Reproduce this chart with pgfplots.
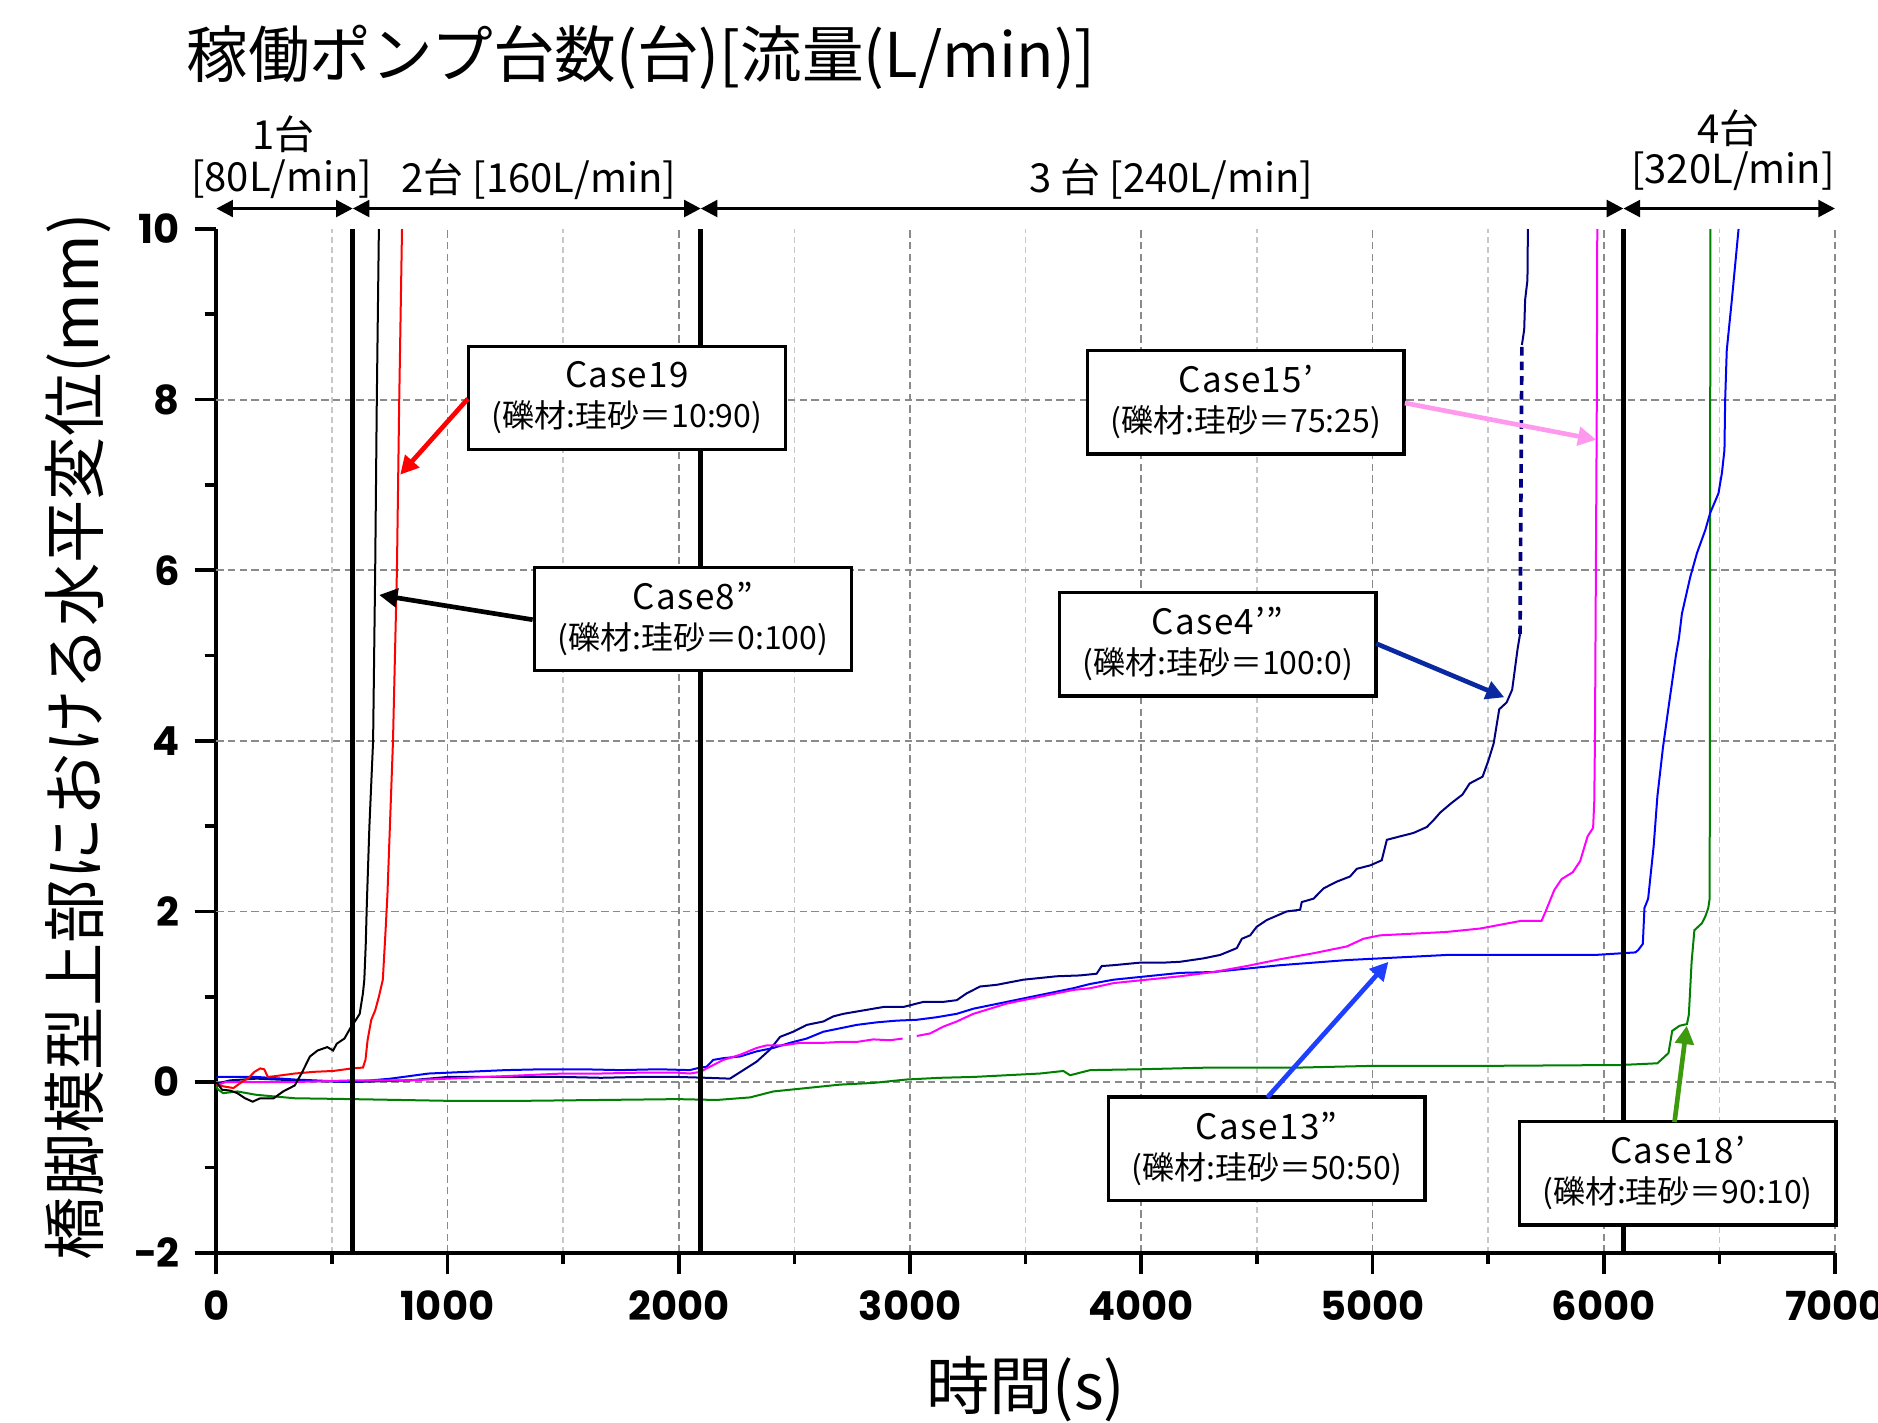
\documentclass[border=0pt]{standalone}
\usepackage{fontspec}
\setmainfont{Noto Sans CJK JP}
\newfontfamily\tickfont{Poppins}
\usepackage{pgfplots}
\pgfplotsset{compat=1.18}
\usetikzlibrary{arrows.meta}

\definecolor{navy}{HTML}{000080}
\definecolor{mag}{HTML}{FF00FF}
\definecolor{grn}{HTML}{008000}
\definecolor{pinkarrow}{HTML}{FF99EE}
\definecolor{navyarrow}{HTML}{0A28A0}
\definecolor{bluearrow}{HTML}{1F3FFF}
\definecolor{greenarrow}{HTML}{3C9A0C}
\definecolor{gridg}{HTML}{8A8A8A}
\definecolor{gridl}{HTML}{C8C8C8}

\tikzset{
  casebox/.style={draw=black, line width=1pt, fill=white, minimum width=95pt,
    minimum height=31pt, align=center, inner sep=2pt},
  annarrow/.style={line width=1.4pt, -{Triangle[length=5.5pt,width=5.5pt]}},
  hdrarrow/.style={line width=1pt, {Triangle[length=5pt,width=5pt]}-{Triangle[length=5pt,width=5pt]}},
}
\newcommand{\casefont}{\fontsize{10.5}{12}\selectfont\addfontfeature{LetterSpace=4}}
\newcommand{\subfont}{\fontsize{9.6}{12}\selectfont}

\begin{document}
\begin{tikzpicture}
\useasboundingbox (-64.9pt,-50.8pt) rectangle (498.5pt,375.8pt);
\begin{axis}[
  at={(0pt,0pt)}, anchor=south west,
  scale only axis, width=485.6pt, height=307.1pt,
  clip=false,
  xmin=0, xmax=7000, ymin=-2, ymax=10,
  axis x line*=bottom, axis y line*=left,
  axis line style={line width=1.1pt, black},
  xtick={0,1000,2000,3000,4000,5000,6000,7000},
  xticklabels={0,1000,2000,3000,4000,5000,6000,7000},
  scaled x ticks=false,
  minor x tick num=1,
  ytick={-2,0,2,4,6,8,10},
  yticklabels={−2,0,2,4,6,8,10},
  minor y tick num=1,
  tick align=outside,
  major tick length=6.5pt, minor tick length=3.5pt,
  tick style={black, line width=1.1pt},
  ticklabel style={font=\tickfont\bfseries\fontsize{12}{12}\selectfont},
  xticklabel style={yshift=-1.5pt},
  yticklabel style={xshift=-1pt},
  /pgf/number format/assume math mode=true,
  xmajorgrids=true, xminorgrids=true, ymajorgrids=false,
  major grid style={color=gridg, line width=0.55pt, dash pattern=on 2.2pt off 1.3pt},
  minor grid style={color=gridl, line width=0.5pt, dash pattern=on 1.6pt off 1.4pt},
  extra y ticks={0,2,4,6,8}, extra y tick labels={},
  extra y tick style={grid=major, major tick length=0pt},
  xlabel={時間(s)},
  xlabel style={at={(axis description cs:0.5,-0.1335)}, anchor=center, font=\fontsize{19}{19}\selectfont},
  ylabel={橋脚模型上部における水平変位(mm)},
  ylabel style={at={(axis description cs:-0.0857,0.504)}, anchor=center, font=\fontsize{19}{19}\selectfont},
]
% Case18' (green)
\addplot[grn, line width=0.6pt] coordinates {
(0,-0.05)(8,-0.09)(30,-0.13)(91,-0.11)(174,-0.15)(339,-0.19)(587,-0.20)(1001,-0.22)
(1332,-0.22)(1663,-0.21)(1994,-0.20)(2164,-0.21)(2308,-0.18)(2409,-0.11)(2553,-0.07)
(2697,-0.03)(2841,-0.01)(2986,0.03)(3130,0.05)(3274,0.06)(3418,0.08)(3562,0.10)(3663,0.13)
(3692,0.08)(3779,0.14)(4000,0.15)(4300,0.17)(4688,0.17)(5000,0.19)(5500,0.19)(6073,0.20)
(6232,0.22)(6280,0.34)(6296,0.60)(6328,0.66)(6360,0.68)(6368,0.79)(6380,1.41)(6392,1.78)
(6424,1.86)(6439,1.94)(6452,2.04)(6458,2.15)(6460,6.0)(6461,10)};
% Case4''' (navy)
\addplot[navy, line width=0.6pt] coordinates {
(0,-0.02)(60,0.02)(174,0.04)(339,0.02)(587,0.0)(836,0.02)(1001,0.06)(1167,0.06)(1332,0.06)
(1498,0.06)(1663,0.05)(1829,0.06)(1994,0.06)(2120,0.05)(2221,0.04)(2279,0.14)(2337,0.24)
(2394,0.38)(2438,0.53)(2495,0.59)(2553,0.67)(2625,0.71)(2668,0.77)(2712,0.80)(2798,0.84)
(2885,0.88)(2971,0.88)(3058,0.94)(3144,0.94)(3202,0.96)(3245,1.04)(3303,1.12)(3375,1.14)
(3490,1.20)(3562,1.22)(3634,1.24)(3735,1.25)(3807,1.27)(3829,1.36)(3880,1.37)(3995,1.40)
(4096,1.40)(4168,1.41)(4269,1.45)(4341,1.49)(4413,1.57)(4435,1.68)(4471,1.72)(4499,1.82)
(4543,1.90)(4629,2.00)(4687,2.02)(4694,2.11)(4745,2.15)(4788,2.27)(4846,2.35)(4903,2.41)
(4932,2.50)(4990,2.54)(5040,2.60)(5062,2.84)(5119,2.88)(5177,2.92)(5235,2.99)(5264,3.07)
(5293,3.16)(5341,3.27)(5389,3.37)(5420,3.50)(5476,3.58)(5500,3.76)(5524,3.97)(5548,4.37)
(5580,4.45)(5604,4.60)(5627,5.07)(5638,5.25)};
\addplot[navy, line width=1.1pt, dash pattern=on 2.6pt off 1.8pt] coordinates {(5638,5.25)(5646,8.64)};
\addplot[navy, line width=0.6pt] coordinates {(5646,8.64)(5656,8.82)(5660,9.17)(5670,9.4)(5672,10)};
% Case13'' (blue)
\addplot[blue, line width=0.6pt] coordinates {
(0,0.05)(8,0.06)(174,0.06)(339,0.03)(587,0.0)(753,0.04)(918,0.10)(1084,0.12)(1250,0.14)
(1415,0.15)(1581,0.15)(1746,0.14)(1912,0.15)(2048,0.14)(2077,0.16)(2120,0.18)(2149,0.26)
(2193,0.28)(2265,0.30)(2337,0.36)(2409,0.40)(2481,0.46)(2553,0.51)(2625,0.59)(2697,0.63)
(2769,0.67)(2856,0.70)(2942,0.72)(3029,0.73)(3115,0.76)(3202,0.80)(3274,0.86)(3346,0.90)
(3418,0.94)(3490,0.98)(3562,1.02)(3634,1.06)(3706,1.10)(3779,1.15)(3880,1.20)(4024,1.24)
(4168,1.28)(4312,1.29)(4456,1.33)(4600,1.37)(4745,1.40)(4889,1.43)(5033,1.45)(5177,1.47)
(5321,1.49)(5484,1.49)(5643,1.49)(5802,1.49)(5962,1.49)(6137,1.52)(6150,1.55)(6169,1.62)
(6176,2.04)(6192,2.15)(6216,2.77)(6232,3.35)(6256,3.92)(6280,4.39)(6312,5.0)(6325,5.2)
(6338,5.49)(6374,5.92)(6403,6.20)(6439,6.47)(6460,6.67)(6496,6.90)(6511,7.14)(6522,7.41)
(6525,7.99)(6532,8.58)(6554,9.17)(6583,10)};
% Case15' (magenta)
\addplot[mag, line width=0.6pt] coordinates {
(0,-0.04)(40,0.0)(174,0.0)(339,0.0)(587,0.02)(836,0.02)(1001,0.04)(1167,0.06)(1332,0.08)
(1498,0.10)(1663,0.10)(1829,0.11)(1994,0.11)(2048,0.10)(2094,0.12)(2120,0.16)(2193,0.26)
(2265,0.32)(2337,0.40)(2380,0.43)(2452,0.43)(2524,0.46)(2625,0.46)(2697,0.47)(2769,0.47)
(2841,0.50)(2913,0.49)(2968,0.51)};
\addplot[mag, line width=0.6pt] coordinates {
(3029,0.54)(3087,0.57)(3144,0.65)(3202,0.71)(3274,0.80)(3346,0.86)(3418,0.92)(3490,0.96)
(3562,1.00)(3634,1.04)(3706,1.08)(3779,1.10)(3880,1.16)(4024,1.20)(4168,1.24)(4312,1.29)
(4456,1.36)(4600,1.44)(4745,1.51)(4889,1.59)(4961,1.68)(5033,1.72)(5177,1.74)(5321,1.76)
(5466,1.80)(5643,1.89)(5731,1.89)(5747,1.99)(5786,2.25)(5818,2.38)(5866,2.46)(5898,2.59)
(5930,2.88)(5954,2.98)(5959,3.29)(5962,4.03)(5966,6.0)(5970,8.0)(5972,10)};
% Case19 (red)
\addplot[red, line width=0.6pt] coordinates {
(0,-0.03)(30,-0.05)(74,-0.07)(110,0.0)(140,0.05)(165,0.12)(190,0.16)(207,0.15)(223,0.06)
(256,0.07)(339,0.10)(422,0.12)(505,0.13)(587,0.16)(634,0.17)(645,0.26)(654,0.49)(670,0.73)
(687,0.84)(703,1.00)(720,1.20)(732,1.78)(740,2.2)(764,4.0)(781,6.0)(791,8.0)(803,10)};
% Case8'' (black)
\addplot[black, line width=0.6pt] coordinates {
(0,0.00)(25,-0.09)(60,-0.10)(91,-0.13)(124,-0.19)(157,-0.23)(190,-0.19)(248,-0.19)(289,-0.11)
(339,-0.04)(372,0.12)(405,0.30)(438,0.37)(480,0.41)(505,0.37)(521,0.45)(554,0.51)(579,0.63)
(604,0.73)(620,0.80)(634,1.04)(640,1.20)(646,1.6)(651,2.1)(662,3.0)(678,4.0)(687,6.0)
(694,8.0)(703,10)};
% pump-change lines
\addplot[black, line width=1.4pt] coordinates {(590,-2)(590,10)};
\addplot[black, line width=1.4pt] coordinates {(2095,-2)(2095,10)};
\addplot[black, line width=1.4pt] coordinates {(6085,-2)(6085,10)};

% header
\node[anchor=west, font=\fontsize{18.5}{20}\selectfont] at (axis cs:-180,12.01) {稼働ポンプ台数(台)[流量(L/min)]};
\draw[hdrarrow] (axis cs:0,10.24) -- (axis cs:590,10.24);
\draw[hdrarrow] (axis cs:590,10.24) -- (axis cs:2095,10.24);
\draw[hdrarrow] (axis cs:2095,10.24) -- (axis cs:6085,10.24);
\draw[hdrarrow] (axis cs:6085,10.24) -- (axis cs:7000,10.24);
\node[font=\fontsize{12}{12}\selectfont] at (axis cs:290,11.11) {1台};
\node[font=\fontsize{12}{12}\selectfont] at (axis cs:283,10.58) {[80L/min]};
\node[font=\fontsize{12}{12}\selectfont] at (axis cs:1394,10.58) {2台 [160L/min]};
\node[font=\fontsize{12}{12}\selectfont] at (axis cs:4130,10.58) {3 台 [240L/min]};
\node[font=\fontsize{12}{12}\selectfont] at (axis cs:6539,11.18) {4台};
\node[font=\fontsize{12}{12}\selectfont] at (axis cs:6559,10.68) {[320L/min]};

% boxes
\node[casebox] at (axis cs:1776,8.02) {\casefont Case19\\\subfont (礫材:珪砂＝10:90)};
\node[casebox] at (axis cs:2061,5.43) {\casefont Case8”\\\subfont (礫材:珪砂＝0:100)};
\node[casebox] at (axis cs:4452,7.97) {\casefont Case15’\\\subfont (礫材:珪砂＝75:25)};
\node[casebox] at (axis cs:4330,5.13) {\casefont Case4’”\\\subfont (礫材:珪砂＝100:0)};
\node[casebox] at (axis cs:4542,-0.78) {\casefont Case13”\\\subfont (礫材:珪砂＝50:50)};
\node[casebox] at (axis cs:6319,-1.07) {\casefont Case18’\\\subfont (礫材:珪砂＝90:10)};

% arrows
\draw[annarrow, red] (axis cs:1088,8.01) -- (axis cs:795,7.12);
\draw[annarrow, black] (axis cs:1368,5.42) -- (axis cs:704,5.71);
\draw[annarrow, pinkarrow] (axis cs:5140,7.96) -- (axis cs:5968,7.53);
\draw[annarrow, navyarrow] (axis cs:5016,5.14) -- (axis cs:5570,4.51);
\draw[annarrow, bluearrow] (axis cs:4545,-0.18) -- (axis cs:5069,1.41);
\draw[annarrow, greenarrow] (axis cs:6306,-0.47) -- (axis cs:6359,0.66);
\end{axis}
\end{tikzpicture}
\end{document}
